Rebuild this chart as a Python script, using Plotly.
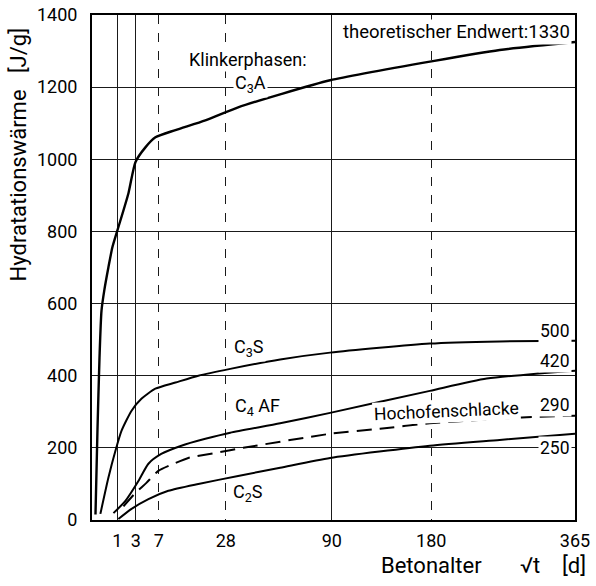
import numpy as np
import plotly.graph_objects as go

# ---- data (t in days, heat of hydration in J/g) ----
x_tick_days = [1, 3, 7, 28, 90, 180, 365]
x_tick_labels = ["1", "3", "7", "28", "90", "180", "365"]
y_ticks = [0, 200, 400, 600, 800, 1000, 1200, 1400]

c3a_t = [0.019, 0.047, 0.088, 0.141, 0.244, 0.42, 0.65, 1.01, 2.08, 2.95, 4.46, 6.29,
         10.9, 20.1, 33.4, 55.4, 88.7, 181.8, 260, 365]
c3a_q = [15, 250, 450, 580, 640, 700, 756, 803, 906, 992, 1033, 1061,
         1081, 1108, 1144, 1180, 1219, 1272, 1303, 1325]

c3s_t = [0.11, 0.42, 0.86, 1.36, 2.45, 3.82, 6.28, 10.9, 17.7, 29.9, 55.4, 88.7, 178.6, 260, 365]
c3s_q = [17, 117, 192, 247, 303, 336, 364, 381, 400, 419, 445, 464, 489, 495, 497]

c4af_t = [0.72, 1.75, 3.37, 4.98, 7.5, 12.5, 20.1, 29.9, 55.4, 88.7, 178.6, 243.8, 365]
c4af_q = [19, 53, 108, 156, 183, 206, 225, 242, 268, 297, 358, 392, 414]

slag_t = [1.55, 2.95, 4.63, 6.89, 10.9, 14.5, 23.8, 35.8, 88.7, 129.7, 178.6, 295.6, 365]
slag_q = [38, 75, 103, 136, 158, 172, 186, 200, 239, 253, 268, 285, 289]

c2s_t = [1.09, 2.45, 4.98, 9.12, 17.7, 33.4, 55.4, 88.7, 178.6, 260, 365]
c2s_q = [3, 31, 58, 81, 100, 122, 145, 172, 206, 222, 239]

FONT = "Roboto"
GRID = "#1a1a1a"
fig = go.Figure()

def add_curve(t, q, width=2.0, dash="solid"):
    fig.add_trace(go.Scatter(
        x=np.sqrt(t), y=q, mode="lines",
        line=dict(color="black", width=width, dash=dash, shape="spline", smoothing=0.6),
        showlegend=False, hoverinfo="skip"))

add_curve(c3a_t, c3a_q, width=2.4)
add_curve(c3s_t, c3s_q)
add_curve(c4af_t, c4af_q)
add_curve(slag_t, slag_q, dash="15px,8px")
add_curve(c2s_t, c2s_q)

# dummy traces on the overlay axes so their gridlines are drawn
fig.add_trace(go.Scatter(x=[None], y=[None], xaxis="x2", showlegend=False, hoverinfo="skip"))
fig.add_trace(go.Scatter(x=[None], y=[None], xaxis="x3", showlegend=False, hoverinfo="skip"))

xmax = float(np.sqrt(365))
solid_days = [1, 3, 90]
dashed_days = [7, 28, 180]

fig.update_layout(
    width=596, height=586,
    margin=dict(l=92, r=21, t=15, b=66, autoexpand=False),
    plot_bgcolor="white", paper_bgcolor="white",
    font=dict(family=FONT, color="black"),
    xaxis=dict(
        range=[0, xmax], tickmode="array",
        tickvals=list(np.sqrt(x_tick_days)), ticktext=x_tick_labels,
        showgrid=False, zeroline=False, automargin=False,
        showline=True, linecolor="black", linewidth=2, mirror=True,
        ticks="", ticklabelstandoff=3,
        tickfont=dict(size=18, family=FONT, color="black"),
    ),
    xaxis2=dict(
        overlaying="x", matches="x", anchor="y", range=[0, xmax], automargin=False,
        tickmode="array", tickvals=list(np.sqrt(dashed_days)),
        showticklabels=False, ticks="", showline=False, zeroline=False,
        showgrid=True, gridcolor=GRID, gridwidth=1, griddash="dash",
    ),
    xaxis3=dict(
        overlaying="x", matches="x", anchor="y", range=[0, xmax], automargin=False,
        tickmode="array", tickvals=list(np.sqrt(solid_days)),
        showticklabels=False, ticks="", showline=False, zeroline=False,
        showgrid=True, gridcolor=GRID, gridwidth=1,
    ),
    yaxis=dict(
        range=[0, 1400], tickmode="array", tickvals=y_ticks,
        showgrid=True, gridcolor=GRID, gridwidth=1,
        zeroline=False, automargin=False,
        showline=True, linecolor="black", linewidth=2, mirror=True,
        ticks="", ticklabelstandoff=9,
        tickfont=dict(size=18, family=FONT, color="black"),
    ),
)

def label(text, x, y, xanchor="center", size=17, angle=0, bg="white"):
    fig.add_annotation(text=text, x=x, y=y, xref="x", yref="y", showarrow=False,
                       xanchor=xanchor, yanchor="middle", textangle=angle,
                       font=dict(size=size, family=FONT, color="black"),
                       bgcolor=bg, borderpad=1)

label("theoretischer Endwert:1330", 18.97, 1354, xanchor="right", size=18.5)
label("Klinkerphasen:", 6.18, 1276, size=18)
label("C<sub>3</sub>A", 6.26, 1210, size=18)
label("C<sub>3</sub>S", 6.22, 476, size=18)
label("C<sub>4</sub> AF", 6.53, 312, size=18)
label("Hochofenschlacke", 14.03, 301, size=17.5, angle=-2.5)
label("C<sub>2</sub>S", 6.18, 74, size=18)
label("500", 18.97, 524, xanchor="right", size=17.5)
label("420", 18.97, 440, xanchor="right", size=17.5)
label("290", 18.97, 318, xanchor="right", size=17.5)
label("250", 18.97, 199, xanchor="right", size=17.5)

fig.add_annotation(text="Hydratationswärme&nbsp;&nbsp;&nbsp;[J/g]", xref="paper", yref="paper",
                   x=-0.152, y=0.723, textangle=-90, showarrow=False,
                   xanchor="center", yanchor="middle",
                   font=dict(size=22, family=FONT, color="black"))
fig.add_annotation(text="Betonalter&nbsp;&nbsp;&nbsp;&nbsp;&nbsp;&nbsp;&nbsp;√t&nbsp;&nbsp;&nbsp;&nbsp;[d]",
                   xref="paper", yref="paper",
                   x=1.027, y=-0.091, showarrow=False,
                   xanchor="right", yanchor="middle",
                   font=dict(size=22, family=FONT, color="black"))

fig.write_html("out.html")
